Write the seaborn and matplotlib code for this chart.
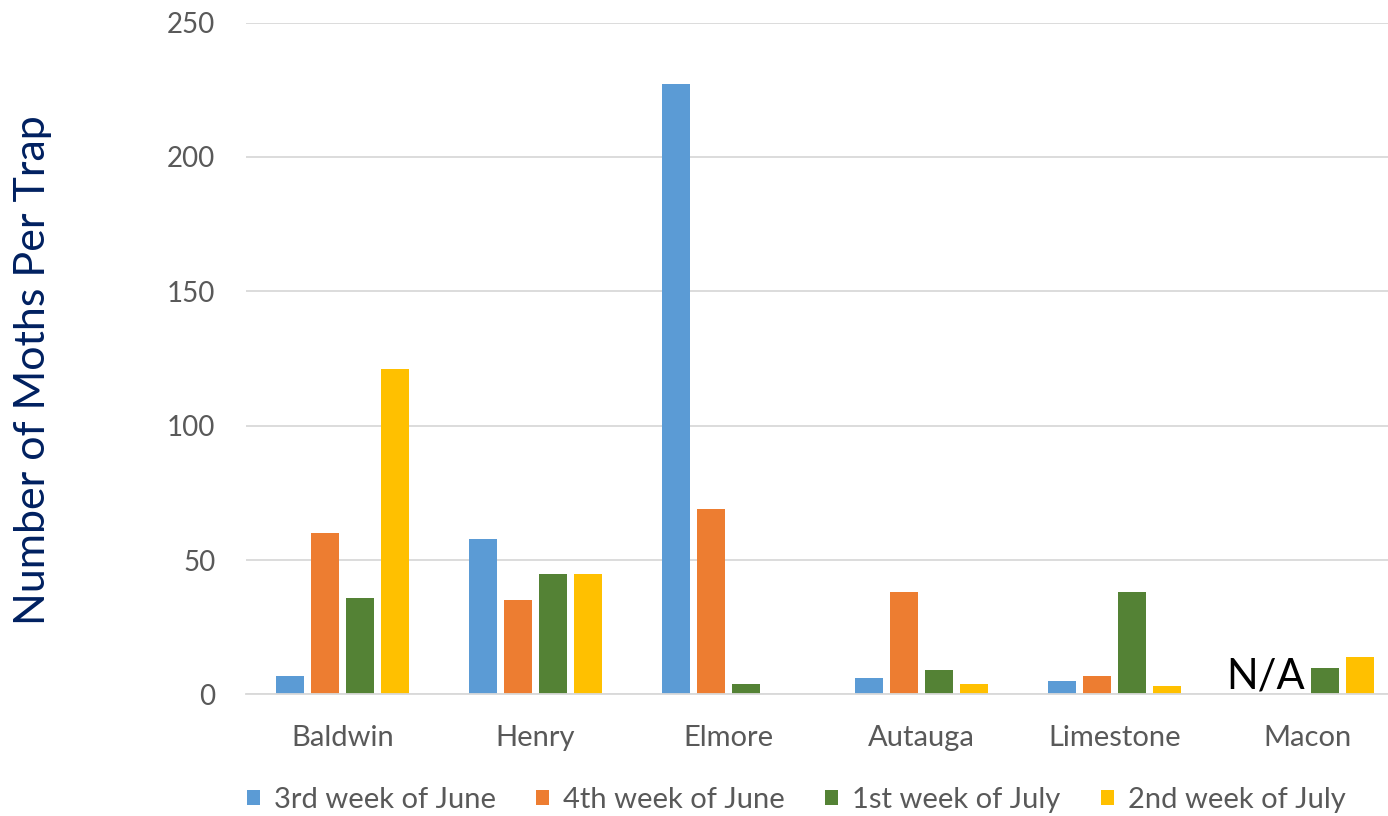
import numpy as np
import pandas as pd
import matplotlib
matplotlib.use("Agg")
import matplotlib.pyplot as plt
from matplotlib.patches import Patch
import seaborn as sns

counties = ["Baldwin", "Henry", "Elmore", "Autauga", "Limestone", "Macon"]
weeks = ["3rd week of June", "4th week of June", "1st week of July", "2nd week of July"]
week3_june = [7, 58, 227, 6, 5, np.nan]
week4_june = [60, 35, 69, 38, 7, np.nan]
week1_july = [36, 45, 4, 9, 38, 10]
week2_july = [121, 45, 0, 4, 3, 14]
colors = ["#5B9BD5", "#ED7D31", "#548235", "#FFC000"]
y_ticks = [0, 50, 100, 150, 200, 250]
na_label = "N/A"
na_county = "Macon"
y_label = "Number of Moths Per Trap"

series = [week3_june, week4_june, week1_july, week2_july]
rows = []
for w, vals in zip(weeks, series):
    for c, v in zip(counties, vals):
        rows.append({"county": c, "week": w, "count": v})
df = pd.DataFrame(rows)

sns.set_theme(style="white")
plt.rcParams['font.family'] = ['Lato', 'DejaVu Sans']

fig = plt.figure(figsize=(13.88, 8.16), dpi=100)
ax = fig.add_axes([0.1772, 0.1489, 0.8343, 0.8235])

sns.barplot(data=df, x="county", y="count", hue="week", order=counties,
            hue_order=weeks, palette=colors, width=0.725, gap=0.2,
            errorbar=None, linewidth=0, saturation=1, legend=False, ax=ax)

ax.set_xlim(-0.5, len(counties) - 0.5)
ax.set_ylim(0, 250)
ax.set_yticks(y_ticks)
ax.yaxis.grid(True, color="#D9D9D9", lw=1.3)
ax.set_axisbelow(True)
for s in ["left", "right", "top"]:
    ax.spines[s].set_visible(False)
ax.spines["bottom"].set_color("#D9D9D9")
ax.spines["bottom"].set_linewidth(1.3)
ax.tick_params(axis="both", length=0, colors="#595959")
ax.tick_params(axis="y", pad=22, labelsize=20)
ax.tick_params(axis="x", pad=22, labelsize=21)
ax.set_xlabel("")
ax.set_ylabel("")

fig.text(33 / 1388, 1 - 370 / 816, y_label, rotation=90, ha="center", va="center",
         fontsize=31, color="#002060")

ax.text(counties.index(na_county) - 0.215, 2.2, na_label, ha="center", va="baseline",
        fontsize=30, color="black")

handles = [Patch(facecolor=c, edgecolor="none") for c in colors]
ax.legend(handles, weeks, loc="center", bbox_to_anchor=(0.5735, 0.0196),
          bbox_transform=fig.transFigure, ncol=4, frameon=False, fontsize=21,
          handlelength=0.45, handleheight=0.45, handletextpad=0.48,
          columnspacing=1.38, labelcolor="#595959", borderaxespad=0, borderpad=0)

fig.savefig("out.png", dpi=100)
